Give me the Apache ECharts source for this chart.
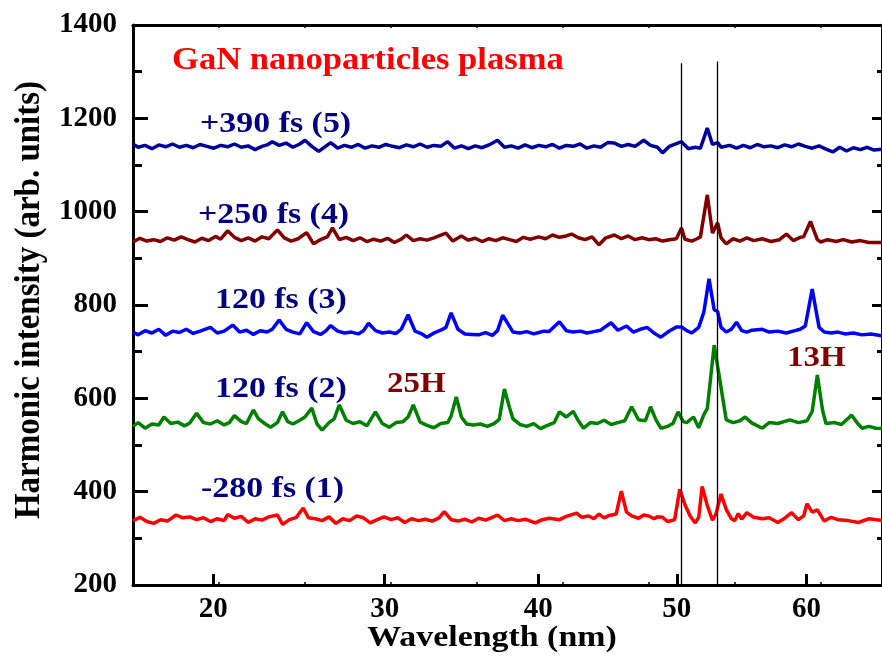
<!DOCTYPE html>
<html lang="en">
<head>
  <meta charset="UTF-8">
  <title>GaN nanoparticles plasma</title>
  <script src="https://cdn.jsdelivr.net/npm/echarts@6/dist/echarts.min.js"></script>
  <style>html,body{margin:0;padding:0;background:#fff;}</style>
</head>
<body>
  <div id="chart" style="width:882px;height:659px;"></div>
  <script>
    // x axis is linear in detector position (original minor ticks every 5 units);
    // the wavelength labels sit where the original figure printed them
    var tickPos = [19.66, 29.64, 38.57, 46.63, 54.17];
    var tickNames = ['20', '30', '40', '50', '60'];
    var xMin = 15, xMax = 58.56;
    var yMin = 200, yMax = 1400, yStep = 200;

    var names = ['-280 fs (1)', '120 fs (2)', '120 fs (3)', '+250 fs (4)', '+390 fs (5)'];
    var harmonics = ['25H', '13H'];
    // two reference lines: [position, top value]
    var refLines = [[46.9, 1318], [49.0, 1322]];

    // -280 fs (1)
    var spec1 = [[15.0,338],[15.4,345],[15.8,336],[16.2,332],[16.6,340],[17.0,337],[17.5,350],[17.9,344],[18.3,346],[18.7,340],[19.1,344],[19.5,336],[19.9,342],[20.3,338],[20.5,351],[20.9,343],[21.3,347],[21.7,334],[22.1,342],[22.5,339],[22.9,346],[23.4,350],[23.7,330],[24.1,340],[24.5,345],[24.9,365],[25.2,344],[25.6,342],[26.0,338],[26.4,346],[26.8,332],[27.2,342],[27.6,338],[28.0,348],[28.4,344],[28.8,333],[29.2,340],[29.6,346],[30.0,340],[30.4,344],[30.8,334],[31.2,342],[31.6,338],[32.0,341],[32.4,337],[32.8,344],[33.1,357],[33.5,340],[33.9,337],[34.3,341],[34.7,335],[35.1,343],[35.5,339],[35.9,345],[36.2,350],[36.6,338],[37.0,342],[37.4,338],[37.8,341],[38.4,333],[38.8,340],[39.2,343],[39.8,340],[40.2,347],[40.8,354],[41.1,345],[41.5,348],[41.8,342],[42.1,352],[42.4,344],[42.7,349],[43.1,352],[43.4,401],[43.7,356],[44.0,348],[44.4,343],[44.7,350],[45.0,348],[45.3,342],[45.5,346],[45.8,345],[46.1,336],[46.5,340],[46.8,405],[47.1,372],[47.4,348],[47.7,333],[47.9,345],[48.1,411],[48.4,370],[48.7,339],[48.9,352],[49.2,395],[49.5,362],[49.8,342],[50.0,338],[50.2,353],[50.4,341],[50.7,355],[51.1,345],[51.6,342],[52.0,344],[52.5,334],[52.9,343],[53.3,355],[53.7,340],[54.0,348],[54.2,374],[54.5,356],[54.8,361],[55.2,337],[55.6,345],[56.0,340],[56.6,338],[57.2,334],[57.8,342],[58.6,338]];
    // 120 fs (2)
    var spec2 = [[15.0,540],[15.3,548],[15.7,536],[16.1,545],[16.5,543],[16.8,560],[17.2,546],[17.6,549],[18.0,541],[18.3,547],[18.7,568],[19.1,548],[19.5,545],[19.9,552],[20.3,543],[20.6,548],[20.9,563],[21.3,550],[21.6,546],[22.0,575],[22.3,556],[22.7,545],[23.0,538],[23.4,548],[23.7,571],[24.0,550],[24.3,545],[24.7,553],[25.0,560],[25.4,579],[25.7,545],[26.0,532],[26.4,548],[26.7,556],[27.0,586],[27.4,553],[27.8,546],[28.2,550],[28.6,541],[29.1,571],[29.5,546],[29.9,538],[30.3,548],[30.7,550],[31.0,560],[31.3,586],[31.7,549],[32.1,542],[32.5,537],[32.9,546],[33.3,548],[33.5,562],[33.8,603],[34.1,560],[34.4,545],[34.8,543],[35.2,545],[35.6,540],[36.0,546],[36.3,555],[36.6,620],[36.9,580],[37.1,556],[37.5,544],[37.9,540],[38.3,546],[38.7,535],[39.1,542],[39.5,548],[39.8,571],[40.2,560],[40.6,572],[40.9,552],[41.2,536],[41.6,548],[42.0,546],[42.4,553],[42.8,544],[43.2,548],[43.6,552],[44.0,582],[44.4,554],[44.8,552],[45.1,582],[45.4,555],[45.7,536],[46.1,540],[46.4,546],[46.7,571],[47.0,550],[47.2,548],[47.6,560],[47.9,537],[48.2,565],[48.4,578],[48.8,714],[49.1,646],[49.5,554],[49.9,548],[50.3,552],[50.6,560],[51.0,547],[51.6,536],[52.0,548],[52.5,546],[53.2,554],[53.7,548],[54.2,552],[54.5,572],[54.8,650],[55.1,575],[55.3,546],[55.8,548],[56.2,544],[56.8,564],[57.1,548],[57.4,536],[57.8,540],[58.2,536],[58.6,535]];
    // 120 fs (3)
    var spec3 = [[15.0,742],[15.3,736],[15.7,745],[16.1,740],[16.5,748],[16.9,735],[17.3,744],[17.7,741],[18.1,748],[18.5,739],[18.9,744],[19.5,752],[19.9,740],[20.3,744],[20.8,757],[21.2,742],[21.6,746],[22.0,737],[22.4,745],[22.8,742],[23.1,748],[23.5,768],[23.9,748],[24.3,742],[24.7,738],[25.1,762],[25.5,743],[25.9,737],[26.2,744],[26.5,756],[26.9,744],[27.3,740],[27.7,742],[28.1,738],[28.4,745],[28.7,761],[29.1,745],[29.5,740],[29.9,742],[30.3,739],[30.6,748],[31.0,779],[31.4,744],[31.8,738],[32.1,731],[32.5,740],[32.9,746],[33.2,752],[33.5,783],[33.9,748],[34.3,738],[34.7,737],[35.1,736],[35.5,741],[35.9,735],[36.2,745],[36.5,778],[36.8,760],[37.1,742],[37.5,740],[37.9,743],[38.3,738],[38.6,741],[38.9,744],[39.2,743],[39.8,764],[40.2,745],[40.6,742],[41.0,744],[41.4,740],[41.8,743],[42.2,746],[42.8,762],[43.2,746],[43.7,755],[44.1,742],[44.5,748],[44.9,752],[45.3,740],[45.7,731],[46.1,742],[46.6,753],[46.9,753],[47.2,745],[47.5,740],[47.9,752],[48.2,785],[48.5,856],[48.8,790],[49.0,786],[49.2,752],[49.5,742],[49.8,748],[50.1,763],[50.4,745],[50.7,742],[51.0,746],[51.6,748],[52.0,742],[52.5,744],[53.0,740],[53.5,745],[53.8,748],[54.1,755],[54.5,834],[54.9,752],[55.2,742],[55.6,740],[56.0,742],[56.4,738],[56.9,740],[57.4,736],[57.9,738],[58.6,734]];
    // +250 fs (4)
    var spec4 = [[15.0,935],[15.4,943],[15.8,937],[16.2,940],[16.6,936],[17.0,944],[17.4,939],[17.8,946],[18.2,940],[18.6,935],[19.0,943],[19.4,938],[19.8,947],[20.1,941],[20.5,959],[20.9,945],[21.3,938],[21.7,944],[22.1,937],[22.5,946],[22.9,942],[23.4,961],[23.8,944],[24.2,937],[24.6,942],[25.1,955],[25.5,931],[25.9,940],[26.3,946],[26.6,965],[27.0,940],[27.4,945],[27.8,938],[28.2,944],[28.6,936],[29.0,941],[29.4,937],[29.8,943],[30.2,934],[30.6,941],[30.9,950],[31.3,938],[31.7,942],[32.1,939],[32.5,944],[33.2,954],[33.6,937],[34.1,948],[34.5,939],[34.9,943],[35.3,936],[35.7,942],[36.1,938],[36.5,944],[36.9,940],[37.3,936],[37.7,945],[38.1,941],[38.6,946],[39.0,942],[39.4,950],[39.8,945],[40.2,948],[40.5,952],[40.9,944],[41.3,940],[41.7,946],[42.1,929],[42.5,944],[43.0,950],[43.4,942],[43.8,948],[44.2,940],[44.6,944],[45.0,940],[45.4,942],[45.8,937],[46.2,940],[46.6,942],[46.9,965],[47.1,941],[47.5,937],[47.8,942],[48.0,946],[48.4,1036],[48.7,954],[49.0,976],[49.2,944],[49.5,931],[49.9,942],[50.3,937],[50.7,944],[51.1,938],[51.6,942],[52.1,936],[52.6,940],[53.0,952],[53.4,938],[53.8,945],[54.0,946],[54.4,979],[54.8,940],[55.0,935],[55.4,940],[55.9,936],[56.3,940],[56.8,935],[57.3,938],[57.8,934],[58.6,934]];
    // +390 fs (5)
    var spec5 = [[15.0,1145],[15.3,1138],[15.7,1142],[16.1,1135],[16.5,1143],[16.9,1139],[17.3,1145],[17.7,1138],[18.1,1142],[18.5,1137],[18.9,1144],[19.3,1140],[19.7,1136],[20.1,1142],[20.5,1139],[20.9,1145],[21.3,1138],[21.7,1141],[22.1,1133],[22.5,1140],[22.8,1143],[23.1,1150],[23.5,1142],[23.9,1147],[24.3,1138],[24.7,1145],[25.0,1153],[25.4,1140],[25.8,1129],[26.2,1140],[26.5,1148],[26.9,1136],[27.3,1142],[27.7,1138],[28.1,1144],[28.5,1136],[28.9,1141],[29.3,1138],[29.7,1144],[30.1,1140],[30.5,1137],[30.9,1143],[31.3,1139],[31.7,1145],[32.1,1138],[32.5,1142],[32.9,1140],[33.3,1150],[33.7,1136],[34.1,1141],[34.5,1135],[34.9,1141],[35.3,1137],[35.7,1143],[36.2,1153],[36.6,1138],[37.0,1141],[37.4,1136],[37.8,1143],[38.2,1137],[38.6,1142],[39.0,1139],[39.4,1144],[39.8,1136],[40.2,1142],[40.6,1140],[41.0,1145],[41.4,1136],[41.8,1141],[42.2,1138],[42.6,1148],[43.0,1147],[43.4,1140],[43.8,1144],[44.2,1140],[44.7,1153],[45.1,1142],[45.5,1138],[45.8,1126],[46.2,1140],[46.6,1146],[46.9,1150],[47.3,1135],[47.7,1138],[48.0,1136],[48.4,1179],[48.7,1144],[49.0,1148],[49.2,1138],[49.7,1142],[50.1,1136],[50.5,1142],[50.9,1137],[51.3,1144],[51.7,1139],[52.1,1141],[52.5,1137],[52.9,1143],[53.3,1139],[53.7,1145],[54.1,1140],[54.5,1136],[54.9,1141],[55.3,1134],[55.7,1128],[56.1,1138],[56.5,1130],[56.9,1137],[57.3,1133],[57.7,1138],[58.1,1132],[58.6,1134]];

    var specs = [spec1, spec2, spec3, spec4, spec5];
    var colors = ['#ff0000', '#008000', '#0000ff', '#800000', '#00009a'];

    var serif = '"Liberation Serif", "Times New Roman", serif';
    var myChart = echarts.init(document.getElementById('chart'));

    var series = specs.map(function (d, i) {
      return {
        name: names[i],
        type: 'line',
        data: d,
        showSymbol: false,
        xAxisIndex: 0,
        yAxisIndex: 0,
        lineStyle: {color: colors[i], width: 3.5},
        itemStyle: {color: colors[i]},
        z: 3
      };
    });
    // thin vertical reference lines
    series.push({
      type: 'line',
      data: [],
      markLine: {
        silent: true,
        symbol: 'none',
        label: {show: false},
        lineStyle: {color: '#000', width: 1.3, type: 'solid'},
        data: refLines.map(function (r) {
          return [{coord: [r[0], yMin]}, {coord: [r[0], r[1]]}];
        })
      },
      z: 4
    });

    function txt(text, x, y, color, size, sx) {
      return {
        type: 'text', x: x, y: y, scaleX: sx,
        style: {text: text, fill: color, font: 'bold ' + size + 'px ' + serif, align: 'left', verticalAlign: 'middle'}
      };
    }

    var options = {
      animation: false,
      grid: {left: 133, top: 25, width: 751, height: 560},
      xAxis: [
        {
          type: 'value', position: 'bottom', min: xMin, max: xMax,
          axisLine: {lineStyle: {color: '#000', width: 3}},
          axisTick: {inside: true, length: 11, lineStyle: {width: 3, color: '#000'}, customValues: tickPos},
          axisLabel: {
            customValues: tickPos, margin: 10, color: '#000',
            fontFamily: serif, fontWeight: 'bold', fontSize: 29,
            formatter: function (v) { return tickNames[tickPos.indexOf(v)]; }
          },
          splitLine: {show: false}
        },
        {
          type: 'value', position: 'bottom', min: xMin, max: xMax, interval: 5,
          axisLine: {show: false},
          axisTick: {inside: true, length: 3, lineStyle: {width: 1.5, color: '#000'}},
          axisLabel: {show: false}, splitLine: {show: false}
        },
        {
          type: 'value', position: 'top', min: xMin, max: xMax, interval: 5,
          axisLine: {lineStyle: {color: '#000', width: 3}},
          axisTick: {inside: true, length: 3, lineStyle: {width: 1.5, color: '#000'}},
          axisLabel: {show: false}, splitLine: {show: false}
        }
      ],
      yAxis: [
        {
          type: 'value', position: 'left', min: yMin, max: yMax, interval: yStep,
          axisLine: {lineStyle: {color: '#000', width: 3}},
          axisTick: {inside: true, length: 15, lineStyle: {width: 3, color: '#000'}},
          minorTick: {show: true, splitNumber: 2, length: 9, lineStyle: {width: 3, color: '#000'}},
          axisLabel: {
            margin: 16, color: '#000', fontFamily: serif, fontWeight: 'bold', fontSize: 29,
            formatter: function (v) { return String(v); }
          },
          splitLine: {show: false}
        },
        {
          type: 'value', position: 'right', min: yMin, max: yMax, interval: yStep,
          axisLine: {lineStyle: {color: '#000', width: 3}},
          axisTick: {inside: true, length: 10, lineStyle: {width: 3, color: '#000'}},
          minorTick: {show: true, splitNumber: 2, length: 5, lineStyle: {width: 3, color: '#000'}},
          axisLabel: {show: false},
          splitLine: {show: false}
        }
      ],
      graphic: [
        txt('GaN nanoparticles plasma', 172, 61, '#ff0000', 32, 1.08),
        txt(names[4], 200, 124, '#000080', 30, 1.13),
        txt(names[3], 198, 215, '#000080', 30, 1.13),
        txt(names[2], 215, 300, '#000080', 30, 1.13),
        txt(names[1], 215, 389, '#000080', 30, 1.13),
        txt(names[0], 201, 489, '#000080', 30, 1.13),
        txt(harmonics[0], 387, 384, '#800000', 30, 1.1),
        txt(harmonics[1], 787, 358, '#800000', 30, 1.1),
        {
          type: 'text', x: 492, y: 638, scaleX: 1.13,
          style: {text: 'Wavelength (nm)', fill: '#000', font: 'bold 30px ' + serif, align: 'center', verticalAlign: 'middle'}
        },
        {
          type: 'text', x: 30, y: 300, rotation: Math.PI / 2, scaleY: 1.1,
          style: {text: 'Harmonic intensity (arb. units)', fill: '#000', font: 'bold 33px ' + serif, align: 'center', verticalAlign: 'middle'}
        }
      ],
      series: series
    };

    myChart.setOption(options);
  </script>
</body>
</html>
